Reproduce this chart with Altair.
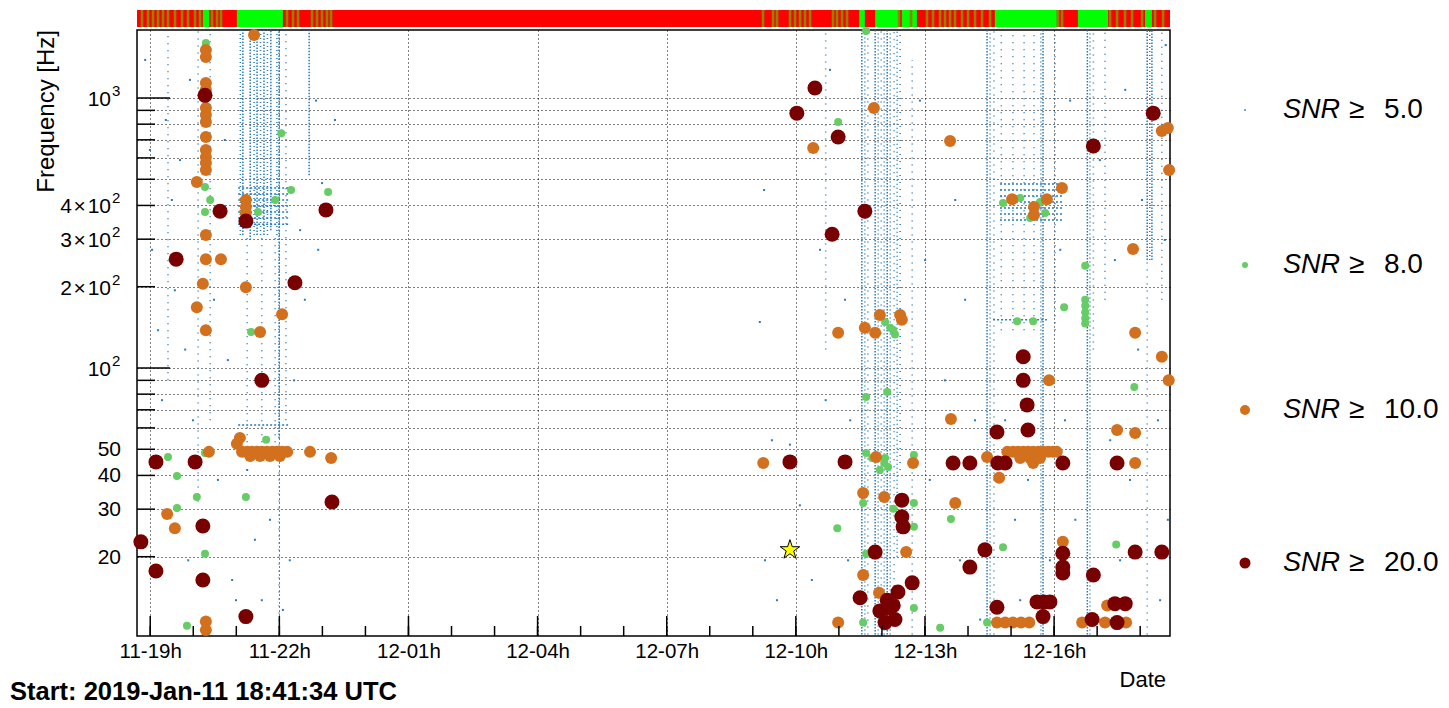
import altair as alt
import pandas as pd

START = pd.Timestamp("2019-01-11 18:41:34")


def times(hours):
    return [START + pd.Timedelta(hours=float(h)) for h in hours]


# ---------------- data (time = hours after start, freq = Hz) ----------------
# SNR >= 20
red_t = [0.09, 0.44, 0.44, 0.91, 1.35, 1.53, 1.53, 1.58, 1.93, 2.53, 2.53, 2.90, 3.67, 4.39, 4.53,
         15.33, 15.75, 15.17, 16.29, 16.45, 16.91, 16.15, 17.15, 16.80, 17.43, 17.45, 17.57, 17.68, 18.01, 17.38, 17.26, 17.61,
         17.77, 17.77, 17.80, 18.96, 19.35, 20.00, 20.17, 21.51, 22.77,
         20.59, 20.59, 20.68, 20.70, 19.98, 19.70, 19.35, 21.51, 21.51, 21.51, 22.22, 23.19, 23.81,
         19.98, 20.91, 21.07, 21.21, 21.05, 22.19, 22.72, 22.96, 22.77, 22.22, 23.61]
red_f = [22.7, 44.9, 17.7, 253, 44.9, 26.0, 16.4, 1023, 381, 350, 12.0, 90, 207, 385, 31.9,
         879, 1089, 44.9, 717, 44.9, 381, 313, 20.8, 14.1, 13.8, 12.9, 13.2, 14.8, 16.0, 11.4, 12.6, 11.7,
         32.4, 28.1, 25.8, 44.5, 44.5, 44.5, 44.5, 44.5, 44.5,
         110, 90, 73, 58.9, 57.9, 21.2, 18.3, 20.6, 18.3, 17.4, 17.1, 20.8, 20.8,
         13.0, 13.6, 13.6, 13.6, 12.0, 11.7, 13.4, 13.4, 11.4, 664, 879]

# SNR >= 10
org_t = [1.60, 1.60, 1.60, 1.60, 1.60, 1.60, 1.60, 1.60, 1.60, 1.60, 1.60, 1.60, 1.60, 1.60, 1.60, 1.60, 1.60,
         1.39, 1.95, 1.53, 1.39, 2.53, 2.53, 2.53, 2.72, 2.53, 3.37, 2.86, 0.70, 0.88, 1.67, 2.39, 2.32,
         2.44, 2.56, 2.67, 2.79, 2.90, 3.02, 3.14, 3.25, 3.37, 3.49, 2.63, 2.86, 3.09, 3.32, 4.02, 4.51,
         15.71, 17.12, 18.89, 23.81, 23.95, 23.98, 23.14, 21.49, 20.33, 20.84, 20.84, 21.14,
         16.29, 16.91, 17.15, 17.26, 17.73, 17.77, 23.19, 23.81, 23.97, 21.19, 18.91, 22.77, 23.19,
         14.55, 17.17, 18.03, 19.75, 20.22, 20.35, 20.47, 20.59, 20.70, 20.82, 20.94, 21.05, 21.17, 21.28, 21.37,
         20.52, 20.75, 20.98, 20.82, 23.19,
         20.03, 16.87, 17.36, 19.01, 21.51, 16.87, 17.24, 17.87, 16.29, 19.98, 20.17, 20.35, 20.54, 20.73,
         21.96, 22.54, 22.49, 22.98]
org_f = [1507, 1419, 1137, 1072, 918, 865, 815, 717, 642, 604, 574, 541, 311, 253, 138, 11.5, 10.7,
         489, 253, 205, 168, 419, 395, 375, 1710, 199, 158, 136, 28.8, 25.5, 48.9, 55.1, 52.4,
         48.9, 48.9, 48.9, 48.9, 48.9, 48.9, 48.9, 48.9, 48.9, 48.9, 47.2, 47.2, 47.2, 47.2, 48.9, 46.4,
         653, 918, 693, 755, 774, 541, 276, 464, 422, 395, 369, 422,
         135, 141, 135, 157, 157, 151, 135, 110, 90, 90, 64.7, 58.9, 57.4,
         44.5, 46.8, 44.5, 46.8, 48.9, 48.9, 48.9, 48.9, 48.9, 48.9, 48.9, 48.9, 48.9, 48.9, 48.9,
         46.4, 46.4, 46.4, 44.5, 44.5,
         39.2, 34.4, 33.3, 31.6, 22.7, 17.1, 14.7, 20.8, 11.4, 11.4, 11.4, 11.4, 11.4, 11.4,
         11.4, 13.2, 11.4, 11.4]

# SNR >= 8
grn_t = [1.60, 3.35, 3.58, 4.44, 1.58, 1.70, 3.21, 1.58, 2.81, 2.65, 3.00,
         0.72, 0.93, 1.39, 0.93, 1.58, 1.58, 1.16, 2.53, 1.70,
         16.29, 16.94, 16.94, 17.43, 16.94, 17.36, 17.45, 18.05, 17.08, 17.26, 17.38,
         16.87, 17.57, 18.05, 18.05, 16.27, 18.91, 16.94, 20.12, 22.75, 16.87, 18.05, 18.66, 19.75,
         23.17, 20.45, 20.82, 21.54, 22.03, 22.03, 22.03, 22.03, 22.03, 17.57, 17.38, 17.50, 17.61, 22.03,
         20.12, 20.52, 20.98, 20.75, 21.10]
grn_f = [1600, 741, 456, 449, 468, 419, 419, 378, 378, 136, 54.2,
         46.8, 39.8, 33.3, 30.3, 48.4, 20.5, 11.1, 33.3, 48.9,
         815, 1770, 78.1, 81.5, 48.4, 44.5, 43.0, 47.6, 46.4, 41.9, 46.4,
         31.6, 30.1, 31.6, 25.8, 25.5, 27.6, 20.5, 21.7, 22.2, 11.4, 12.9, 10.9, 11.4,
         85.0, 149, 149, 168, 179, 170, 161, 153, 146, 138, 148, 141, 133, 239,
         408, 426, 412, 359, 375]

# SNR >= 5 : isolated triggers
blu_t = [0.19, 0.30, 0.35, 0.49, 0.58, 0.67, 0.81, 0.88, 1.00, 1.12, 1.19, 1.23, 1.30, 1.79, 1.88, 2.04,
         2.11, 2.21, 2.30, 3.55, 3.65, 3.79, 3.90, 4.16, 4.30, 4.21, 4.60, 2.74, 2.90, 3.09, 2.56, 3.39,
         14.57, 14.47, 14.75, 14.59, 14.87, 15.17, 15.40, 15.68, 15.87, 16.00, 16.10, 16.45, 16.57, 16.52,
         18.19, 18.31, 18.42, 18.77, 19.01, 19.12, 19.24, 19.47, 19.59, 20.17, 20.40, 20.52, 20.70, 21.21,
         21.45, 21.56, 21.68, 21.80, 22.37, 22.61, 22.72, 22.84, 22.96, 23.07, 23.26, 23.35, 23.72, 23.77,
         23.88, 23.95, 23.90]
blu_f = [1384, 642, 274, 138, 76, 829, 419, 194, 589, 117, 19.4, 1167, 64, 179, 38.5, 699,
         107, 16.4, 13.8, 19.4, 90, 324, 179, 978, 484, 274, 829, 23.1, 13.8, 27.4, 41.9, 12.7,
         456, 148, 54, 19.4, 13.8, 52, 31, 16.4, 274, 76, 1271, 179, 64, 19.4,
         978, 251, 38.5, 90, 419, 19.4, 179, 64, 11.7, 64, 27.4, 13.8, 38.5, 19.4,
         274, 64, 978, 27.4, 589, 54, 251, 19.4, 1072, 38.5, 117, 419, 64, 13.8,
         298, 27.4, 1570]

# SNR >= 5 : columns of triggers (time, lowest freq, highest freq, density)
col_t = [0.72, 1.42, 1.70, 2.40, 2.46, 2.63, 2.72, 2.79, 2.87, 2.95, 3.03, 3.11, 3.25, 3.30, 3.30, 3.46, 4.00,
         2.56, 2.90, 3.21,
         16.00, 16.84, 16.91, 16.98, 17.15, 17.22, 17.29, 17.36, 17.43, 17.50, 17.59, 17.66, 17.73, 18.01,
         19.75, 19.82, 19.91, 20.08, 20.35, 20.61, 20.84, 21.00, 21.05, 21.33, 22.08, 22.14, 22.22, 22.49,
         23.47, 23.47, 23.53, 23.58, 23.81]
col_lo = [90, 32, 64, 311, 311, 298, 311, 311, 311, 311, 311, 324, 311, 55, 10.3, 64, 518,
          50, 50, 50,
          117, 10.3, 10.3, 10.3, 10.3, 10.3, 10.3, 10.3, 10.3, 10.3, 13.8, 20, 41.9, 10.3,
          10.3, 10.3, 10.3, 138, 138, 138, 138, 10.3, 10.3, 138, 10.3, 10.3, 117, 179,
          251, 10.3, 251, 251, 179]
col_hi = [1780, 1780, 1780, 1780, 1780, 1780, 1780, 1780, 1780, 1780, 1780, 1780, 1780, 1780, 55, 1780, 1780,
          311, 311, 311,
          1780, 1780, 1780, 1780, 1780, 1780, 1780, 1780, 1780, 1780, 1780, 1780, 1780, 1384,
          1780, 1780, 1780, 1780, 1780, 1780, 1780, 1780, 1780, 1780, 1780, 1780, 1780, 1780,
          1780, 251, 1780, 1780, 1780]
col_kind = ["sparse", "sparse", "sparse", "medium", "dense", "dense", "medium", "dense", "medium", "dense",
            "medium", "dense", "medium", "dense", "sparse", "sparse", "dense",
            "sparse", "sparse", "sparse",
            "sparse", "dense", "medium", "sparse", "dense", "medium", "sparse", "medium", "dense", "medium",
            "sparse", "medium", "sparse", "sparse",
            "dense", "medium", "sparse", "sparse", "sparse", "sparse", "sparse", "medium", "dense", "sparse",
            "dense", "medium", "sparse", "sparse",
            "dense", "sparse", "medium", "dense", "sparse"]

# SNR >= 5 : frequency bands of triggers (start, end, freq)
band_t0 = [2.35, 2.35, 2.35, 2.35, 2.35, 2.35, 2.35, 2.35,
           20.05, 20.05, 20.05, 20.05, 20.05, 20.05, 20.05, 19.89]
band_t1 = [3.56, 3.56, 3.56, 3.56, 3.56, 3.56, 3.56, 3.51,
           21.49, 21.49, 21.49, 21.49, 21.49, 21.49, 21.49, 21.14]
band_f = [464, 441, 419, 398, 378, 359, 341, 61.5,
          480, 456, 434, 412, 391, 372, 353, 151]

# loudest event (star)
star_t = [15.17]
star_f = [21.2]

# state bar: science segments and short flickering segments
on_t0 = [1.53, 2.32, 16.78, 17.15, 17.77, 17.98, 19.93, 21.86, 23.42]
on_t1 = [1.68, 3.39, 16.91, 17.68, 17.96, 18.12, 21.37, 22.56, 23.58]
flick_c = [0.116, 0.256, 0.372, 0.488, 0.604, 0.720, 0.883, 1.046, 1.185, 1.348, 1.464, 1.743, 1.859, 1.952,
           3.485, 3.625, 3.741, 4.066, 4.182, 4.298, 4.414, 4.508,
           14.545, 14.777, 14.870, 15.172, 15.288, 15.404, 15.520, 15.637, 16.171, 16.264, 16.380, 16.496,
           17.704, 17.983, 18.355, 18.494, 18.657, 18.773, 18.889, 19.005, 19.168, 19.307, 19.470, 19.633,
           19.819, 21.399, 21.492, 22.607, 22.770, 22.955, 23.118, 23.351, 23.653, 23.839]
FLICK_HALF = 0.03

# axes
x_major = [(11, 19), (11, 22), (12, 1), (12, 4), (12, 7), (12, 10), (12, 13), (12, 16)]
y_ticks = [20, 30, 40, 50, 60, 70, 80, 90, 100, 200, 300, 400, 500, 600, 700, 800, 900, 1000]
y_decades = [100, 1000]
# y tick labels: plain ones, and mantissa/exponent ones
y_plain_vals = [20, 30, 40, 50]
y_plain_text = ["20", "30", "40", "50"]
y_pow_vals = [100, 200, 300, 400, 1000]
y_pow_base = ["10", "2\u200a\u00d7\u200a10", "3\u200a\u00d7\u200a10", "4\u200a\u00d7\u200a10", "10"]
y_pow_exp = ["2", "2", "2", "2", "3"]

legend_labels = ["5.0", "8.0", "10.0", "20.0"]

# ---------------- styling ----------------
W, H = 1033, 606
FONT = "Liberation Sans"
BLUE = "#2a7ab8"
GREEN = "#66cc66"
ORANGE = "#d2701e"
DARKRED = "#780000"
STAR = ("M0,-1L0.2245,-0.309L0.951,-0.309L0.363,0.118L0.588,0.809L0,0.382L-0.588,0.809"
        "L-0.363,0.118L-0.951,-0.309L-0.2245,-0.309Z")

xscale = alt.Scale(domain=[alt.DateTime(year=2019, month=1, date=11, hours=18, minutes=41, seconds=34),
                           alt.DateTime(year=2019, month=1, date=12, hours=18, minutes=41, seconds=34)])
yscale = alt.Scale(type="log", domain=[10.17, 1786], nice=False)

x_values = [alt.DateTime(year=2019, month=1, date=d, hours=h) for d, h in x_major]

xaxis = alt.Axis(values=x_values, format="%d-%Hh", labelFont=FONT, labelFontSize=20.5, labelColor="black",
                 tickSize=0, domain=False, grid=True, gridColor="black", gridDash=[1, 3], gridOpacity=1,
                 gridWidth=1, labelPadding=5, title=None, labelOverlap=False, labelFlush=False)
yaxis = alt.Axis(values=y_ticks, labels=False, tickSize=0, domain=False, grid=True, gridColor="black",
                 gridDash=[1, 3], gridOpacity=1, gridWidth=1, title=None)


def X(field, **kw):
    return alt.X(field, type="temporal", scale=xscale, axis=xaxis, **kw)


def Y(field, **kw):
    return alt.Y(field, type="quantitative", scale=yscale, axis=yaxis, **kw)


# ---------------- data frames ----------------
df_blue = pd.DataFrame({"time": times(blu_t), "freq": blu_f})
df_cols = pd.DataFrame({"time": times(col_t), "lo": col_lo, "hi": col_hi, "kind": col_kind})
df_band = pd.DataFrame({"t0": times(band_t0), "t1": times(band_t1), "freq": band_f})
df_green = pd.DataFrame({"time": times(grn_t), "freq": grn_f})
df_orange = pd.DataFrame({"time": times(org_t), "freq": org_f})
df_red = pd.DataFrame({"time": times(red_t), "freq": red_f})
df_star = pd.DataFrame({"time": times(star_t), "freq": star_f})
df_full = pd.DataFrame({"t0": times([0.0]), "t1": times([24.0])})
df_on = pd.DataFrame({"t0": times(on_t0), "t1": times(on_t1)})
df_flick = pd.DataFrame({"t0": times([c - FLICK_HALF for c in flick_c]),
                         "t1": times([c + FLICK_HALF for c in flick_c])})
df_xmaj = pd.DataFrame({"time": [pd.Timestamp(2019, 1, d, h) for d, h in x_major]})
df_xmin = pd.DataFrame({"time": pd.date_range("2019-01-11 19:00", "2019-01-12 18:00", freq="h")})
df_ydec = pd.DataFrame({"freq": y_decades})
df_ymin = pd.DataFrame({"freq": [v for v in y_ticks if v not in y_decades]})
df_ylab = pd.DataFrame({"freq": y_plain_vals, "text": y_plain_text})
df_ypow = pd.DataFrame({"freq": y_pow_vals, "base": y_pow_base, "exp": y_pow_exp})
one = pd.DataFrame({"k": [0]})

# ---------------- layers ----------------
blue = alt.Chart(df_blue).mark_square(size=4, color=BLUE, opacity=1).encode(x=X("time"), y=Y("freq"))

cols = alt.Chart(df_cols).mark_rule(color=BLUE, strokeWidth=1.5).encode(
    x=X("time"), y=Y("lo"), y2="hi",
    strokeDash=alt.StrokeDash("kind:N",
                              scale=alt.Scale(domain=["dense", "medium", "sparse"],
                                              range=[[1.5, 1.5], [1, 3], [1, 6]]),
                              legend=None),
)
bands = alt.Chart(df_band).mark_rule(color=BLUE, strokeWidth=1.5, strokeDash=[2, 2]).encode(
    x=X("t0"), x2="t1", y=Y("freq"))

green = alt.Chart(df_green).mark_circle(size=64, color=GREEN, opacity=1).encode(x=X("time"), y=Y("freq"))
orange = alt.Chart(df_orange).mark_circle(size=144, color=ORANGE, opacity=1).encode(x=X("time"), y=Y("freq"))
red = alt.Chart(df_red).mark_circle(size=225, color=DARKRED, opacity=1).encode(x=X("time"), y=Y("freq"))
star = alt.Chart(df_star).mark_point(shape=STAR, size=420, filled=True, fill="#ffff00", stroke="black",
                                     strokeWidth=1, opacity=1).encode(x=X("time"), y=Y("freq"))

bar_full = alt.Chart(df_full).mark_rect(color="#ff0000").encode(
    x=X("t0"), x2="t1", y=alt.value(-20), y2=alt.value(-3))
bar_on = alt.Chart(df_on).mark_rect(color="#00ff00").encode(
    x=X("t0"), x2="t1", y=alt.value(-20), y2=alt.value(-3))
bar_flick = alt.Chart(df_flick).mark_rect(color="#8f8400").encode(
    x=X("t0"), x2="t1", y=alt.value(-20), y2=alt.value(-3))

xt_major = alt.Chart(df_xmaj).mark_rule(color="black", strokeWidth=1.5).encode(
    x=X("time"), y=alt.value(H), y2=alt.value(H - 20))
xt_minor = alt.Chart(df_xmin).mark_rule(color="black", strokeWidth=1.5).encode(
    x=X("time"), y=alt.value(H), y2=alt.value(H - 10))
yt_dec = alt.Chart(df_ydec).mark_rule(color="black", strokeWidth=1.5).encode(
    y=Y("freq"), x=alt.value(0), x2=alt.value(33))
yt_min = alt.Chart(df_ymin).mark_rule(color="black", strokeWidth=1.5).encode(
    y=Y("freq"), x=alt.value(0), x2=alt.value(18))

ylab_plain = alt.Chart(df_ylab).mark_text(font=FONT, fontSize=21, align="right", baseline="middle",
                                          color="black", dy=1).encode(
    y=Y("freq"), x=alt.value(-16), text="text:N")
ylab_base = alt.Chart(df_ypow).mark_text(font=FONT, fontSize=21, align="right", baseline="middle",
                                         color="black", dy=2).encode(
    y=Y("freq"), x=alt.value(-26), text="base:N")
ylab_exp = alt.Chart(df_ypow).mark_text(font=FONT, fontSize=15, align="left", baseline="middle",
                                        color="black", dy=-7).encode(
    y=Y("freq"), x=alt.value(-25), text="exp:N")

texts = []
texts.append(alt.Chart(one).mark_text(text="Frequency [Hz]", font=FONT, fontSize=24, angle=270, align="right",
                                      baseline="middle", color="black").encode(x=alt.value(-90), y=alt.value(0)))
texts.append(alt.Chart(one).mark_text(text="Date", font=FONT, fontSize=22, align="right",
                                      baseline="alphabetic", color="black").encode(x=alt.value(1029), y=alt.value(657)))
texts.append(alt.Chart(one).mark_text(text="Start: 2019-Jan-11 18:41:34 UTC", font=FONT, fontSize=25.5,
                                      fontWeight="bold", align="left", baseline="alphabetic",
                                      color="black").encode(x=alt.value(-127), y=alt.value(670)))

leg_y = [80, 235, 380, 533]
leg_style = [(BLUE, 3, "square"), (GREEN, 36, "circle"), (ORANGE, 100, "circle"), (DARKRED, 121, "circle")]
for lab, yy, (col, sz, shp) in zip(legend_labels, leg_y, leg_style):
    texts.append(alt.Chart(one).mark_point(shape=shp, size=sz, filled=True, color=col, opacity=1).encode(
        x=alt.value(1108), y=alt.value(yy)))
    texts.append(alt.Chart(one).mark_text(text="SNR", font=FONT, fontSize=27, fontStyle="italic", align="left",
                                          baseline="middle", color="black").encode(x=alt.value(1146), y=alt.value(yy)))
    texts.append(alt.Chart(one).mark_text(text="\u2265", font=FONT, fontSize=28, align="left",
                                          baseline="middle", color="black").encode(x=alt.value(1212), y=alt.value(yy)))
    texts.append(alt.Chart(one).mark_text(text=lab, font=FONT, fontSize=28, align="left",
                                          baseline="middle", color="black").encode(x=alt.value(1247), y=alt.value(yy)))

chart = alt.layer(
    blue, cols, bands, green, orange, red, star,
    bar_full, bar_on, bar_flick, xt_major, xt_minor, yt_dec, yt_min,
    ylab_plain, ylab_base, ylab_exp, *texts
).properties(
    width=W, height=H,
    autosize=alt.AutoSizeParams(type="none"),
    padding={"left": 137, "top": 30, "right": 279, "bottom": 72},
    background="white",
).configure_view(stroke="black", strokeWidth=1.5)

chart.save("out.html", embed_options={"renderer": "svg", "actions": False})
